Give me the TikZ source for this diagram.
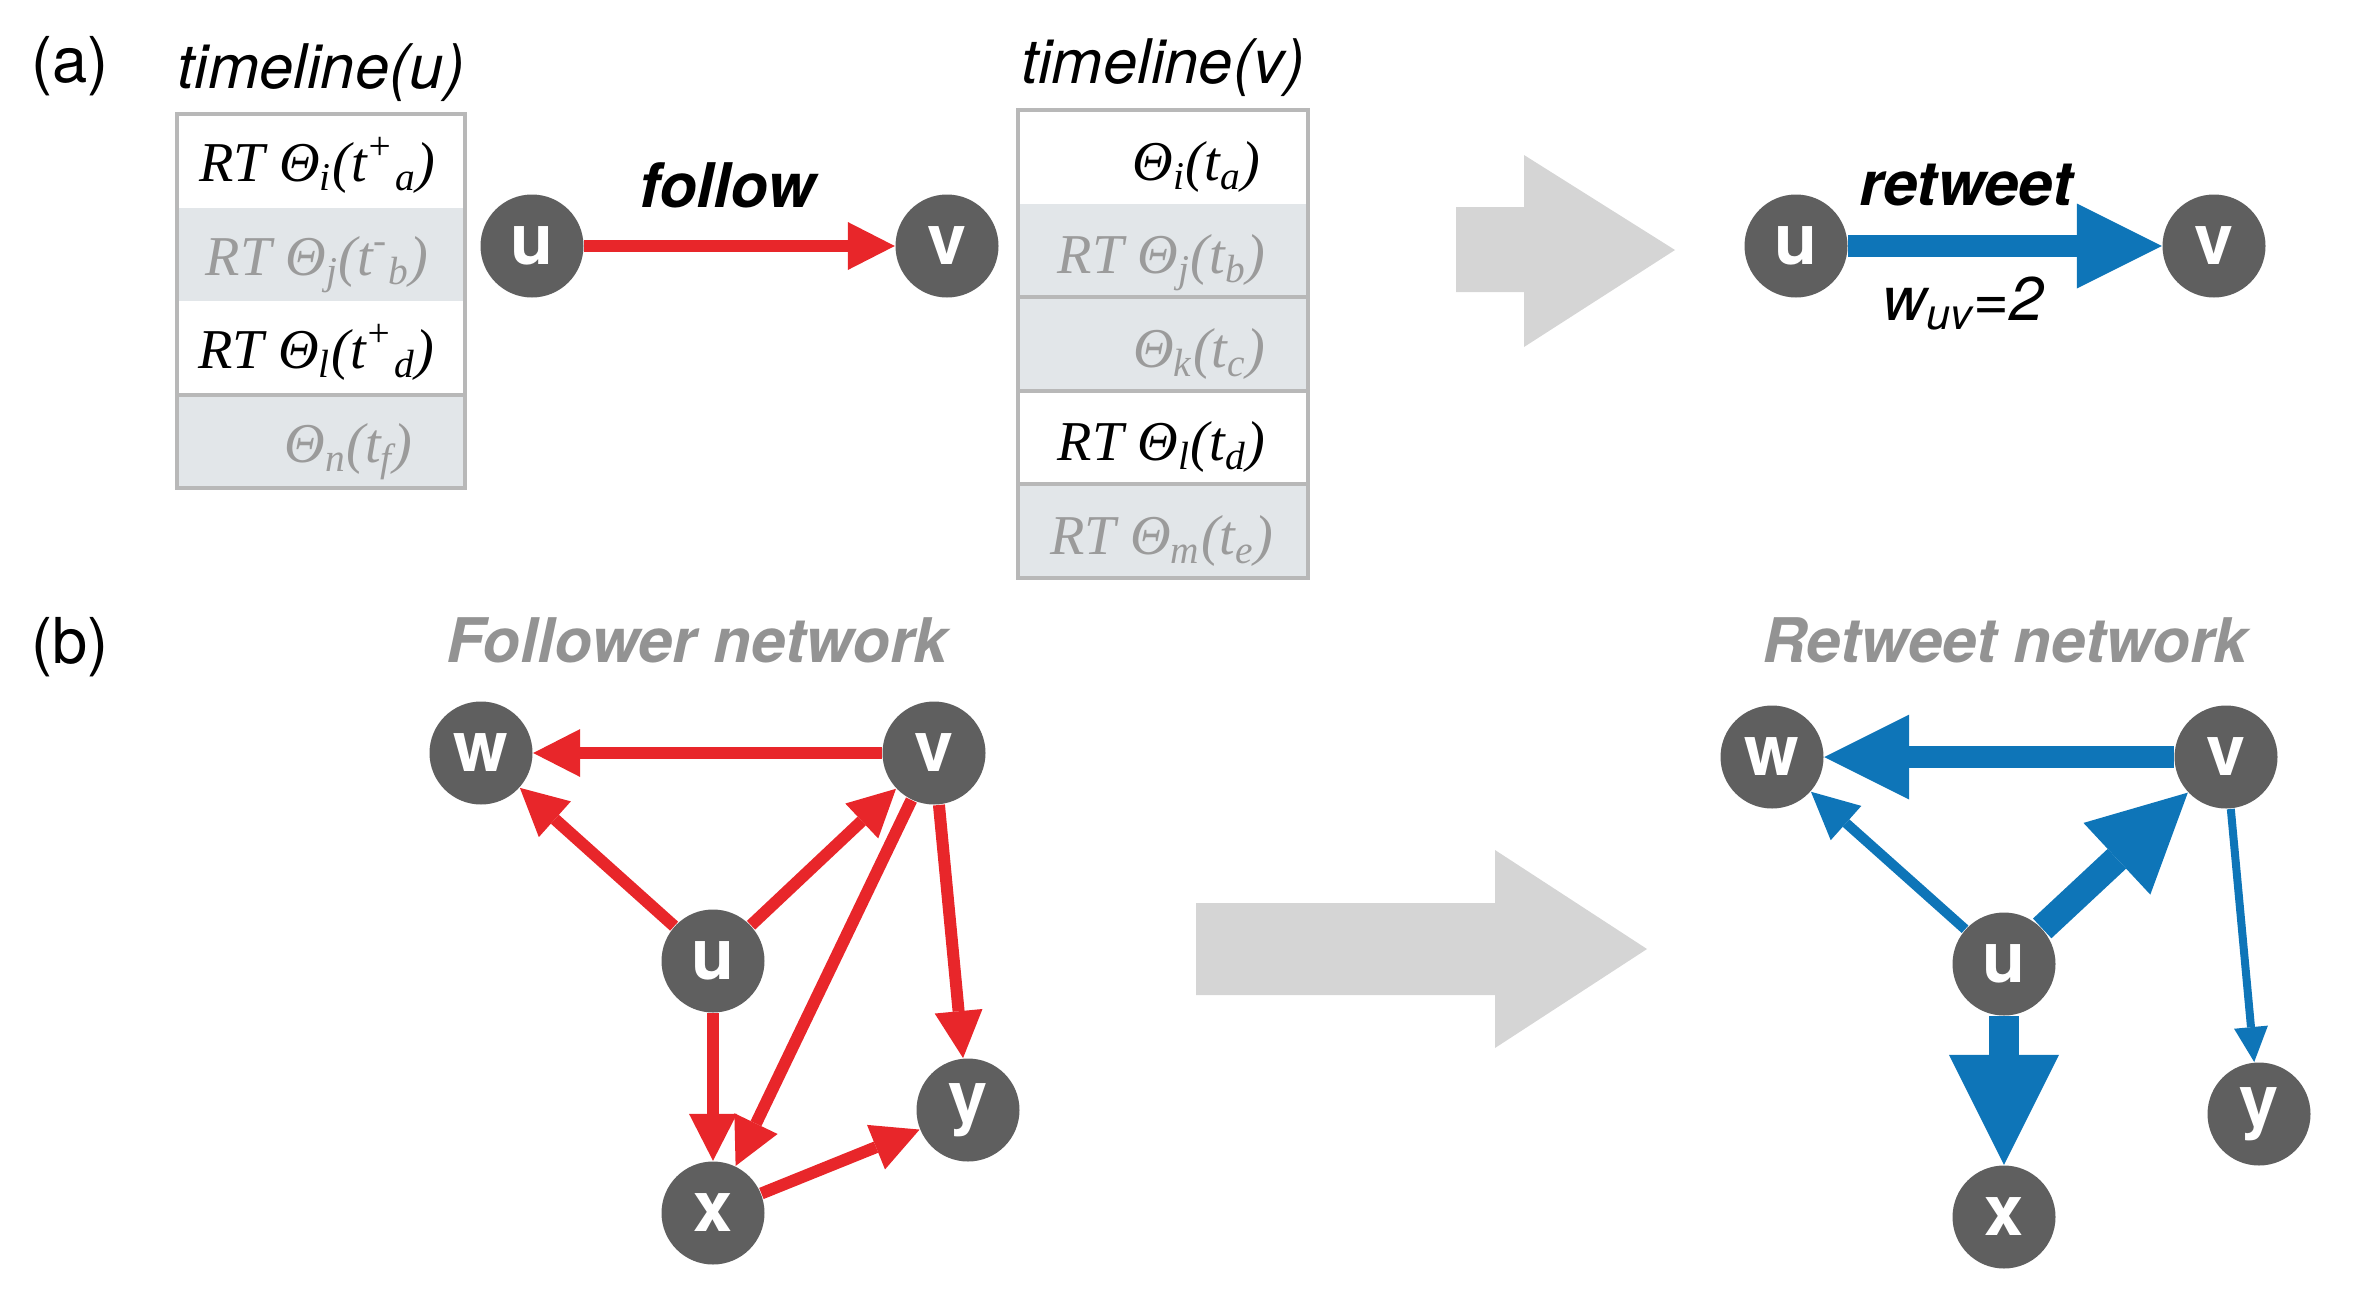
\documentclass[tikz,border=0pt]{standalone}
\usepackage{fontspec}
\setmainfont{TeX Gyre Heros}
\newfontfamily\tweetfont{Liberation Serif}
\usetikzlibrary{arrows.meta, positioning}

\definecolor{NodeGray}{RGB}{95,95,95}
\definecolor{FollowRed}{RGB}{232,38,42}
\definecolor{RetweetBlue}{RGB}{14,117,184}
\definecolor{BigArrowGray}{RGB}{213,213,213}
\definecolor{CellGray}{RGB}{226,230,233}
\definecolor{BorderGray}{RGB}{184,184,184}
\definecolor{TextGray}{RGB}{155,155,155}
\definecolor{TitleGray}{RGB}{147,147,147}

\tikzset{
  user/.style={circle, fill=NodeGray, minimum size=1.03cm, inner sep=0pt,
               text=white, font=\fontsize{20}{20}\selectfont\bfseries},
  cell/.style={minimum width=2.88cm, minimum height=0.935cm, inner sep=0pt, outer sep=0pt},
  graycell/.style={cell, fill=CellGray},
  tweet/.style={anchor=base east, inner sep=0pt,
                font=\fontsize{16}{16}\selectfont\tweetfont\itshape},
  oldtweet/.style={tweet, text=TextGray},
  follow/.style={draw=FollowRed, line width=0.12cm,
                 -{Triangle[length=0.47cm, width=0.48cm, line width=0pt]}},
  retweet/.style n args={3}{draw=RetweetBlue, line width=#1,
                 -{Triangle[length=#2, width=#3, line width=0pt]}},
  panel/.style={anchor=base, inner sep=0pt, font=\fontsize{18}{18}\selectfont},
  tltitle/.style={anchor=base, inner sep=0pt, font=\fontsize{17.5}{18}\selectfont\itshape},
  edgelabel/.style={inner sep=0pt, font=\fontsize{17.5}{18}\selectfont\bfseries\itshape},
  netname/.style={anchor=base, inner sep=0pt, text=TitleGray,
                  font=\fontsize{17.5}{18}\selectfont\bfseries\itshape},
  bigarrow/.style={fill=BigArrowGray},
  rim/.style={draw=BorderGray, line width=0.04cm}
}

\begin{document}
\begin{tikzpicture}
  \useasboundingbox (0,0) rectangle (23.7,-12.99);

  % (a) timelines
  \node[panel] (pa) at (0.70,-0.82) {(a)};

  \node[cell] (tu1) at (3.21,-1.6075) {};
  \node[graycell, below=0pt of tu1] (tu2) {};
  \node[cell, below=0pt of tu2] (tu3) {};
  \node[graycell, below=0pt of tu3] (tu4) {};
  \draw[rim] (tu1.north west) rectangle (tu4.south east);
  \draw[rim] (tu3.south west) -- (tu3.south east);
  \node[tltitle] (tlu) at ([yshift=0.26cm]tu1.north) {timeline(u)};

  \node[tweet] (tu1t) at ([xshift=-0.29cm, yshift=-0.21cm]tu1.east)
    {RT Θ\textsubscript{i}(t\textsuperscript{+}\textsubscript{a})};
  \node[oldtweet] (tu2t) at ([xshift=-0.36cm, yshift=-0.21cm]tu2.east)
    {RT Θ\textsubscript{j}(t\textsuperscript{-}\textsubscript{b})};
  \node[tweet] (tu3t) at ([xshift=-0.30cm, yshift=-0.21cm]tu3.east)
    {RT Θ\textsubscript{l}(t\textsuperscript{+}\textsubscript{d})};
  \node[oldtweet] (tu4t) at ([xshift=-0.52cm, yshift=-0.21cm]tu4.east)
    {Θ\textsubscript{n}(t\textsubscript{f})};

  \node[cell, minimum width=2.90cm] (tv1) at (11.63,-1.57) {};
  \node[graycell, minimum width=2.90cm, below=0pt of tv1] (tv2) {};
  \node[graycell, minimum width=2.90cm, below=0pt of tv2] (tv3) {};
  \node[cell, minimum width=2.90cm, below=0pt of tv3] (tv4) {};
  \node[graycell, minimum width=2.90cm, below=0pt of tv4] (tv5) {};
  \draw[rim] (tv1.north west) rectangle (tv5.south east);
  \foreach \r in {tv2, tv3, tv4}
    \draw[rim] (\r.south west) -- (\r.south east);
  \node[tltitle] (tlv) at ([yshift=0.27cm]tv1.north) {timeline(v)};

  \node[tweet] (tv1t) at ([xshift=-0.47cm, yshift=-0.23cm]tv1.east)
    {Θ\textsubscript{i}(t\textsubscript{a})};
  \node[oldtweet] (tv2t) at ([xshift=-0.42cm, yshift=-0.23cm]tv2.east)
    {RT Θ\textsubscript{j}(t\textsubscript{b})};
  \node[oldtweet] (tv3t) at ([xshift=-0.42cm, yshift=-0.23cm]tv3.east)
    {Θ\textsubscript{k}(t\textsubscript{c})};
  \node[tweet] (tv4t) at ([xshift=-0.42cm, yshift=-0.23cm]tv4.east)
    {RT Θ\textsubscript{l}(t\textsubscript{d})};
  \node[oldtweet] (tv5t) at ([xshift=-0.34cm, yshift=-0.23cm]tv5.east)
    {RT Θ\textsubscript{m}(t\textsubscript{e})};

  % (a) follow and retweet
  \node[user] (uA) at (5.32,-2.46) {u};
  \node[user] (vA) at (9.47,-2.46) {v};
  \draw[follow] (uA) -- node[edgelabel, above=0.32cm, xshift=-0.12cm] (flw) {follow} (vA);

  \fill[bigarrow] (14.56,-2.07) -- (15.24,-2.07) -- (15.24,-1.55) -- (16.75,-2.50)
    -- (15.24,-3.47) -- (15.24,-2.92) -- (14.56,-2.92) -- cycle;

  \node[user] (uR) at (17.96,-2.46) {u};
  \node[user] (vR) at (22.14,-2.46) {v};
  \draw[retweet={0.22cm}{0.85cm}{0.85cm}] (uR) --
    node[edgelabel, above=0.29cm, xshift=-0.39cm] (rtw) {retweet}
    node[edgelabel, below=0.20cm, xshift=-0.42cm, font=\fontsize{17.5}{18}\selectfont\itshape] (wuv)
      {w\textsubscript{uv}=2} (vR);

  % (b) networks
  \node[panel] (pb) at (0.70,-6.63) {(b)};
  \node[netname] (fnet) at (6.97,-6.62) {Follower network};
  \node[netname] (rnet) at (20.05,-6.62) {Retweet network};

  \node[user] (fw) at (4.81,-7.53) {w};
  \node[user] (fv) at (9.34,-7.53) {v};
  \node[user] (fu) at (7.13,-9.61) {u};
  \node[user] (fy) at (9.68,-11.10) {y};
  \node[user] (fx) at (7.13,-12.13) {x};
  \foreach \a/\b in {fv/fw, fu/fw, fu/fv, fv/fx, fv/fy, fu/fx, fx/fy}
    \draw[follow] (\a) -- (\b);

  \fill[bigarrow] (11.96,-9.03) -- (14.95,-9.03) -- (14.95,-8.50) -- (16.47,-9.49)
    -- (14.95,-10.48) -- (14.95,-9.95) -- (11.96,-9.95) -- cycle;

  \node[user] (rw) at (17.72,-7.57) {w};
  \node[user] (rv) at (22.26,-7.57) {v};
  \node[user] (ru) at (20.04,-9.64) {u};
  \node[user] (ry) at (22.59,-11.14) {y};
  \node[user] (rx) at (20.04,-12.17) {x};
  \foreach \a/\b/\lw/\hl/\hw in {rv/rw/0.22/0.85/0.85, ru/rw/0.10/0.47/0.46,
      ru/rv/0.27/0.97/0.98, ru/rx/0.30/1.10/1.10, rv/ry/0.08/0.35/0.34}
    \draw[retweet={\lw cm}{\hl cm}{\hw cm}] (\a) -- (\b);
\end{tikzpicture}
\end{document}
